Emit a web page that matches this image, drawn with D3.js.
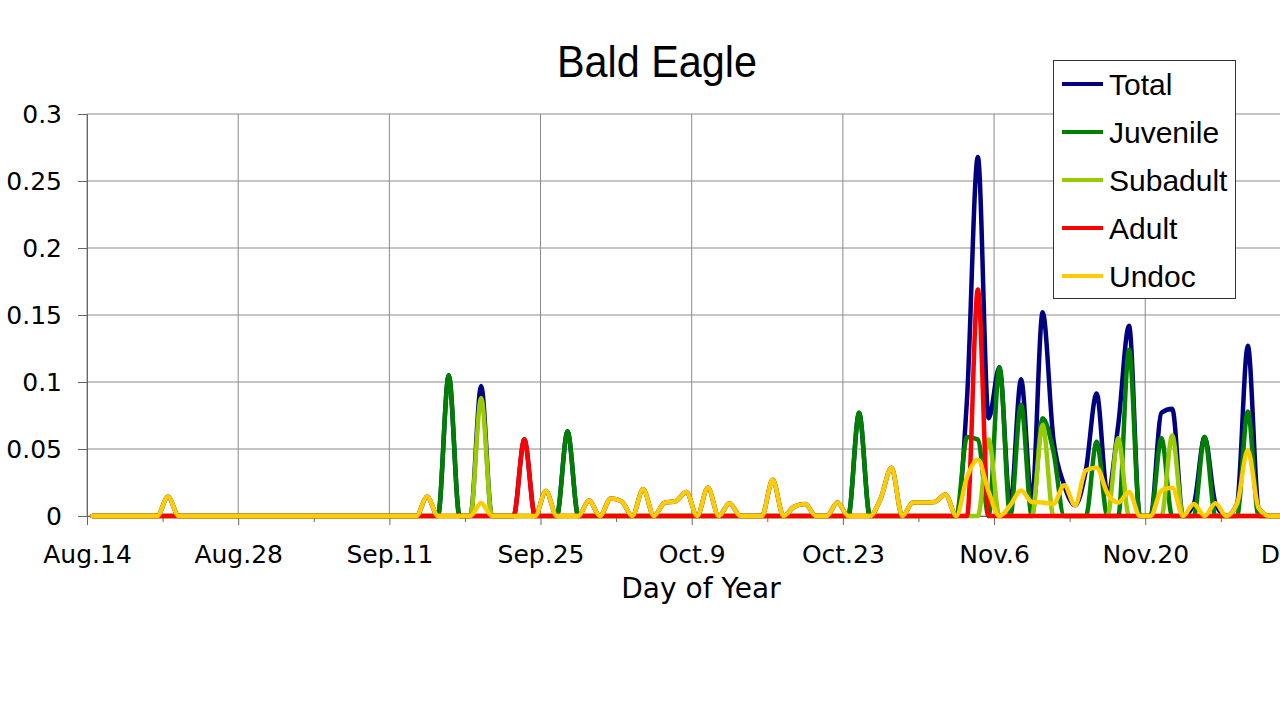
<!DOCTYPE html>
<html><head><meta charset="utf-8">
<script src="https://cdn.jsdelivr.net/npm/d3@7"></script>
<style>body{margin:0;background:#fff;} svg{display:block;}</style>
</head><body>
<svg id="chart" width="1280" height="720"></svg>
<script>
const chartTitle = "Bald Eagle";
const xAxisTitle = "Day of Year";
const dayCount = 114; // daily categories starting Aug.14
const xTickLabels = ["Aug.14","Aug.28","Sep.11","Sep.25","Oct.9","Oct.23","Nov.6","Nov.20","Dec.4"];
const yTicks = [0, 0.05, 0.1, 0.15, 0.2, 0.25, 0.3];
const seriesNames = ["Total","Juvenile","Subadult","Adult","Undoc"];
const seriesColors = ["#000080","#008000","#99CC00","#FF0000","#FFCC00"];

// non-zero daily values: [day index counted from Aug.14, value]; all other days are 0
const total = [[7,0.0144],[31,0.0144],[33,0.105],[36,0.097],[40,0.057],[42,0.0187],[44,0.063],[46,0.0115],
  [48,0.013],[49,0.011],[51,0.020],[53,0.010],[54,0.011],[55,0.018],[57,0.021],[59,0.0095],[63,0.027],
  [65,0.007],[66,0.009],[69,0.010],[71,0.077],[73,0.013],[74,0.036],[76,0.010],[77,0.010],[78,0.0105],
  [79,0.016],[81,0.088],[82,0.268],[83,0.073],[84,0.111],[85,0.008],[86,0.102],[87,0.0105],[88,0.152],
  [89,0.057],[90,0.023],[91,0.008],[92,0.034],[93,0.0915],[94,0.017],[95,0.068],[96,0.142],[99,0.077],
  [100,0.080],[102,0.009],[103,0.059],[104,0.0095],[106,0.009],[107,0.127],[108,0.006]];
const juvenile = [[33,0.105],[44,0.063],[71,0.077],[81,0.059],[82,0.057],[84,0.111],[86,0.083],[88,0.073],
  [89,0.048],[93,0.0555],[96,0.124],[99,0.058],[103,0.059],[107,0.078]];
const subadult = [[36,0.088],[83,0.057],[88,0.068],[95,0.058],[100,0.060]];
const adult = [[40,0.057],[82,0.169]];
const undoc = [[7,0.0144],[31,0.0144],[36,0.0097],[42,0.0187],[46,0.0115],[48,0.013],[49,0.011],[51,0.020],
  [53,0.010],[54,0.011],[55,0.018],[57,0.021],[59,0.0095],[63,0.027],[65,0.007],[66,0.009],[69,0.010],
  [73,0.013],[74,0.036],[76,0.010],[77,0.010],[78,0.0105],[79,0.016],[81,0.029],[82,0.042],[83,0.018],
  [85,0.008],[86,0.019],[87,0.0105],[88,0.010],[89,0.009],[90,0.023],[91,0.008],[92,0.034],[93,0.036],
  [94,0.017],[95,0.010],[96,0.018],[99,0.019],[100,0.021],[102,0.009],[104,0.0095],[106,0.009],
  [107,0.049],[108,0.006]];

const seriesData = [total, juvenile, subadult, adult, undoc];

function expand(pairs){
  const arr = new Array(dayCount).fill(0);
  pairs.forEach(([d,v]) => { arr[d] = v; });
  return arr;
}

const font = "'Liberation Sans', Arial, sans-serif";
const tickFont = "'DejaVu Sans', sans-serif";
const svg = d3.select("#chart").style("font-family", font);
const plotLeft = 87, plotRight = 1318, plotTop = 114, plotBottom = 516;

const x = d3.scaleLinear().domain([0, dayCount]).range([plotLeft, plotRight]);
const y = d3.scaleLinear().domain([0, 0.3]).range([plotBottom, plotTop]);

// gridlines
const grid = svg.append("g");
grid.selectAll("line.h").data(yTicks).join("line")
  .attr("x1", plotLeft).attr("x2", plotRight).attr("y1", d => y(d)).attr("y2", d => y(d))
  .attr("stroke", "#8a8a8a").attr("stroke-width", 1);
const majorDays = d3.range(0, dayCount, 14);
grid.selectAll("line.v").data(majorDays).join("line")
  .attr("x1", d => x(d)).attr("x2", d => x(d)).attr("y1", plotTop).attr("y2", plotBottom)
  .attr("stroke", "#8a8a8a").attr("stroke-width", 1);

// axes
const yAxis = svg.append("g").attr("transform", `translate(${plotLeft},0)`)
  .call(d3.axisLeft(y).tickValues(yTicks).tickSize(9).tickPadding(16).tickFormat(d => String(d)));
yAxis.select(".domain").attr("stroke", "#666");
yAxis.selectAll(".tick line").attr("stroke", "#666");
yAxis.selectAll("text").attr("font-size", 25).attr("fill", "#000").style("font-family", tickFont);

const xAxisMajor = svg.append("g").attr("transform", `translate(0,${plotBottom})`)
  .call(d3.axisBottom(x).tickValues(majorDays).tickSize(9).tickPadding(20)
    .tickFormat((d, i) => xTickLabels[i]).tickSizeOuter(0));
xAxisMajor.select(".domain").attr("stroke", "#666");
xAxisMajor.selectAll(".tick line").attr("stroke", "#666");
xAxisMajor.selectAll("text").attr("font-size", 25).attr("fill", "#000").style("font-family", tickFont);

const minorDays = d3.range(7, dayCount, 14);
const xAxisMinor = svg.append("g").attr("transform", `translate(0,${plotBottom})`)
  .call(d3.axisBottom(x).tickValues(minorDays).tickSize(6).tickFormat(""));
xAxisMinor.select(".domain").remove();
xAxisMinor.selectAll(".tick line").attr("stroke", "#666");

const line = d3.line()
  .x((d, i) => x(i + 0.5))
  .y(d => y(d))
  .curve(d3.curveMonotoneX);

const plot = svg.append("g");
seriesData.forEach((s, k) => {
  plot.append("path").datum(expand(s))
    .attr("d", line)
    .attr("fill", "none")
    .attr("stroke", seriesColors[k])
    .attr("stroke-width", 4.5)
    .attr("stroke-linejoin", "round")
    .attr("stroke-linecap", "round");
});

// titles
svg.append("text").attr("x", 657).attr("y", 77).attr("text-anchor", "middle")
  .attr("font-size", 45).attr("textLength", 200).attr("lengthAdjust", "spacingAndGlyphs")
  .attr("fill", "#000").text(chartTitle);
svg.append("text").attr("x", 701).attr("y", 598).attr("text-anchor", "middle")
  .attr("font-size", 28).attr("fill", "#000").style("font-family", tickFont).text(xAxisTitle);

// legend
const lg = svg.append("g");
lg.append("rect").attr("x", 1053.5).attr("y", 60.5).attr("width", 182).attr("height", 238)
  .attr("fill", "#fff").attr("stroke", "#333").attr("stroke-width", 1);
seriesNames.forEach((n, k) => {
  const yy = 84 + 48 * k;
  lg.append("line").attr("x1", 1062).attr("x2", 1103).attr("y1", yy).attr("y2", yy)
    .attr("stroke", seriesColors[k]).attr("stroke-width", 4);
  lg.append("text").attr("x", 1109).attr("y", yy).attr("dy", "0.36em")
    .attr("font-size", 30).attr("fill", "#000").text(n);
});
</script>
</body></html>
